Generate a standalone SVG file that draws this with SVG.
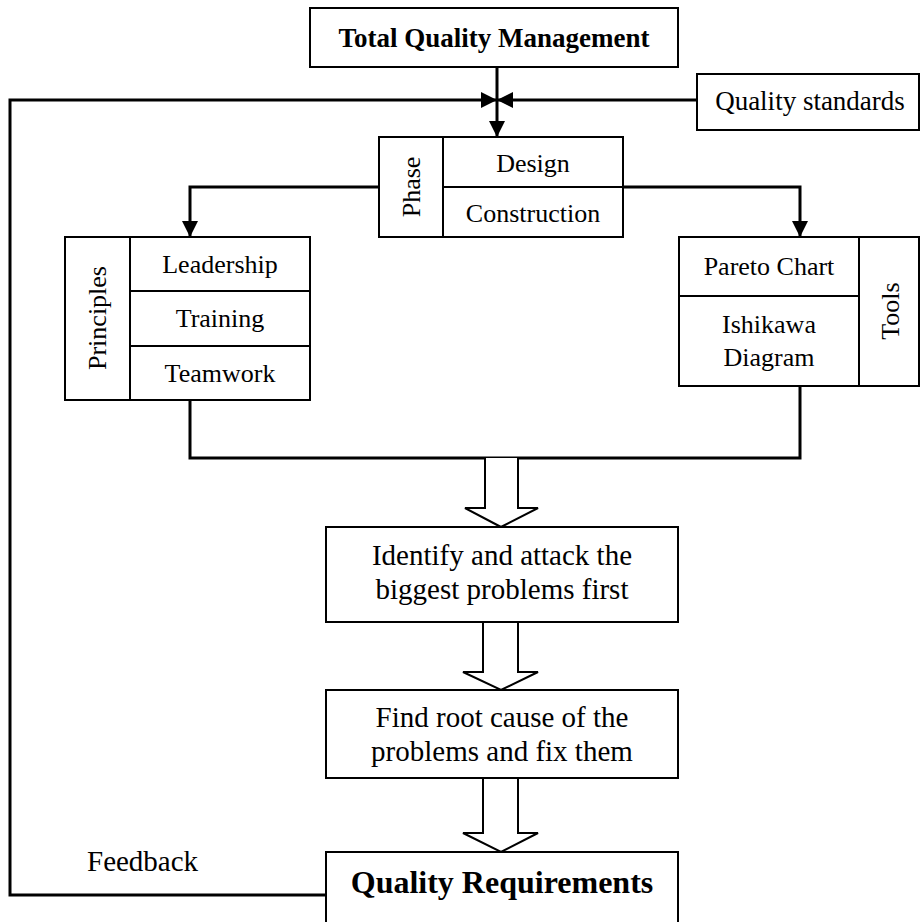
<svg xmlns="http://www.w3.org/2000/svg" width="922" height="922" viewBox="0 0 922 922">
  <style>
    .box { fill: #ffffff; stroke: #000000; stroke-width: 2; }
    .div { fill: none; stroke: #000000; stroke-width: 2; }
    .wire { fill: none; stroke: #000000; stroke-width: 3; }
    .hollow { fill: #ffffff; stroke: #000000; stroke-width: 2; stroke-linejoin: miter; }
    .t { font-family: "Liberation Serif", "Times New Roman", serif; font-size: 26px; fill: #000000; text-anchor: middle; }
    .b { font-weight: bold; }
    .m { font-size: 27px; }
    .p { font-size: 29px; }
    .big { font-size: 32px; }
    .left { text-anchor: start; }
  </style>
  <defs>
    <marker id="arrow" viewBox="0 0 16 16" refX="16" refY="8" markerWidth="16" markerHeight="16" markerUnits="userSpaceOnUse" orient="auto">
      <path d="M0,0 L16,8 L0,16 Z" fill="#000000"/>
    </marker>
  </defs>

  <!-- connectors -->
  <g id="connectors">
    <!-- TQM down to phase -->
    <path class="wire" d="M497,67 V137" marker-end="url(#arrow)"/>
    <!-- quality standards into the junction -->
    <path class="wire" d="M697,100 H497" marker-end="url(#arrow)"/>
    <!-- feedback loop from quality requirements -->
    <path class="wire" d="M326,895 H10 V100 H497" marker-end="url(#arrow)"/>
    <!-- phase to principles and tools -->
    <path class="wire" d="M379,187 H190 V237" marker-end="url(#arrow)"/>
    <path class="wire" d="M623,187 H800 V237" marker-end="url(#arrow)"/>
    <!-- principles and tools joined -->
    <path class="wire" d="M190,400 V458 H800 V386"/>
    <!-- block arrows -->
    <path class="hollow" d="M485,458 V508 H465 L501,527 L538,508 H518 V458"/>
    <path class="hollow" d="M483,622 V672 H463 L501,690 L538,672 H518 V622"/>
    <path class="hollow" d="M483,778 V833 H463 L501,852 L538,833 H518 V778"/>
  </g>

  <g id="tqm">
    <rect class="box" x="310" y="8" width="368" height="59"/>
    <text class="t b m" x="494" y="47">Total Quality Management</text>
  </g>

  <g id="quality-standards">
    <rect class="box" x="697" y="74" width="222" height="56"/>
    <text class="t m" x="810" y="110">Quality standards</text>
  </g>

  <g id="phase">
    <rect class="box" x="379" y="137" width="244" height="100"/>
    <path class="div" d="M443,137 V237 M443,187 H623"/>
    <text class="t" transform="translate(420,187) rotate(-90)">Phase</text>
    <text class="t" x="533" y="172">Design</text>
    <text class="t" x="533" y="222">Construction</text>
  </g>

  <g id="principles">
    <rect class="box" x="65" y="237" width="245" height="163"/>
    <path class="div" d="M130,237 V400 M130,291 H310 M130,346 H310"/>
    <text class="t" transform="translate(106,318) rotate(-90)">Principles</text>
    <text class="t" x="220" y="273">Leadership</text>
    <text class="t" x="220" y="327">Training</text>
    <text class="t" x="220" y="382">Teamwork</text>
  </g>

  <g id="tools">
    <rect class="box" x="679" y="237" width="240" height="149"/>
    <path class="div" d="M859,237 V386 M679,296 H859"/>
    <text class="t" transform="translate(899,311) rotate(-90)">Tools</text>
    <text class="t" x="769" y="275">Pareto Chart</text>
    <text class="t" x="769" y="333">Ishikawa</text>
    <text class="t" x="769" y="366">Diagram</text>
  </g>

  <g id="identify">
    <rect class="box" x="326" y="527" width="352" height="95"/>
    <text class="t p" x="502" y="565">Identify and attack the</text>
    <text class="t p" x="502" y="599">biggest problems first</text>
  </g>

  <g id="root-cause">
    <rect class="box" x="326" y="690" width="352" height="88"/>
    <text class="t p" x="502" y="727">Find root cause of the</text>
    <text class="t p" x="502" y="761">problems and fix them</text>
  </g>

  <g id="quality-requirements">
    <rect class="box" x="326" y="852" width="352" height="90"/>
    <text class="t b big" x="502" y="893">Quality Requirements</text>
  </g>

  <g id="feedback-label">
    <text class="t p left" x="87" y="871">Feedback</text>
  </g>
</svg>
